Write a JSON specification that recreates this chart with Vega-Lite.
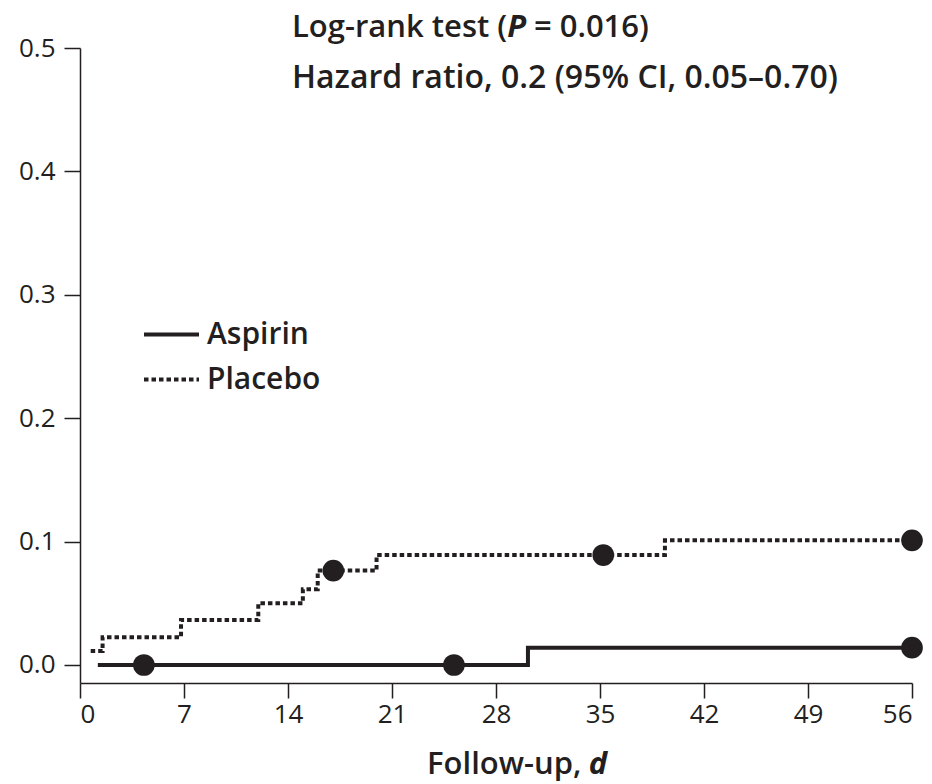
{
  "$schema": "https://vega.github.io/schema/vega-lite/v6.json",
  "width": 832,
  "height": 635,
  "autosize": {"type": "none"},
  "padding": {"left": 80, "top": 48, "right": 20, "bottom": 101},
  "background": "white",
  "datasets": {
    "curves": [
      {"group": "Aspirin", "x": 1.2, "y": 0},
      {"group": "Aspirin", "x": 30.15, "y": 0.014},
      {"group": "Aspirin", "x": 56, "y": 0.014},
      {"group": "Placebo", "x": 0.72, "y": 0.0113},
      {"group": "Placebo", "x": 1.52, "y": 0.0224},
      {"group": "Placebo", "x": 6.8, "y": 0.0365},
      {"group": "Placebo", "x": 12.0, "y": 0.050},
      {"group": "Placebo", "x": 15.0, "y": 0.0613},
      {"group": "Placebo", "x": 16.0, "y": 0.0765},
      {"group": "Placebo", "x": 19.96, "y": 0.0891},
      {"group": "Placebo", "x": 39.37, "y": 0.1010},
      {"group": "Placebo", "x": 56, "y": 0.1010}
    ],
    "censor": [
      {"group": "Aspirin", "x": 4.3, "y": 0},
      {"group": "Aspirin", "x": 25.17, "y": 0},
      {"group": "Aspirin", "x": 56, "y": 0.014},
      {"group": "Placebo", "x": 17.05, "y": 0.0765},
      {"group": "Placebo", "x": 35.22, "y": 0.0891},
      {"group": "Placebo", "x": 56, "y": 0.1010}
    ],
    "annot": [
      {"x": 14.27, "y": 0.5162, "label": "Log-rank test ("},
      {"x": 30.55, "y": 0.5162, "label": "= 0.016)"},
      {"x": 23.36, "y": -0.081, "label": "Follow-up,"}
    ],
    "annotLarge": [
      {"x": 14.27, "y": 0.4757, "label": "Hazard ratio, 0.2 (95% CI, 0.05–0.70)"}
    ],
    "annotItalic": [
      {"x": 28.75, "y": 0.5162, "label": "P"},
      {"x": 34.25, "y": -0.081, "label": "d"}
    ]
  },
  "encoding": {
    "x": {
      "field": "x",
      "type": "quantitative",
      "scale": {"domain": [0, 56], "nice": false, "zero": false},
      "axis": {"values": [0, 7, 14, 21, 28, 35, 42, 49, 56], "title": null, "format": "d"}
    },
    "y": {
      "field": "y",
      "type": "quantitative",
      "scale": {"domain": [-0.0146, 0.5], "nice": false, "zero": false},
      "axis": {"values": [0, 0.1, 0.2, 0.3, 0.4, 0.5], "title": null, "format": ".1f"}
    }
  },
  "layer": [
    {
      "data": {"name": "curves"},
      "mark": {"type": "line", "interpolate": "step-after", "color": "#231f20", "strokeWidth": 4, "strokeCap": "butt"},
      "encoding": {
        "strokeDash": {
          "field": "group",
          "type": "nominal",
          "scale": {"domain": ["Aspirin", "Placebo"], "range": [[1, 0], [4.5, 3]]},
          "legend": {
            "orient": "none",
            "legendX": 62,
            "legendY": 257,
            "title": null,
            "padding": 0,
            "symbolType": "stroke",
            "symbolSize": 3025,
            "symbolStrokeWidth": 4,
            "symbolStrokeColor": "#231f20",
            "rowPadding": -5,
            "labelOffset": 6,
            "labelFont": "Open Sans",
            "labelFontWeight": 600,
            "labelFontSize": 30,
            "labelColor": "#231f20"
          }
        }
      }
    },
    {
      "data": {"name": "censor"},
      "mark": {"type": "circle", "size": 470, "color": "#231f20", "opacity": 1}
    },
    {
      "data": {"name": "annot"},
      "mark": {"type": "text", "align": "left", "baseline": "middle", "font": "Open Sans", "fontWeight": 600, "fontSize": 31, "color": "#231f20"},
      "encoding": {"text": {"field": "label", "type": "nominal"}}
    },
    {
      "data": {"name": "annotLarge"},
      "mark": {"type": "text", "align": "left", "baseline": "middle", "font": "Open Sans", "fontWeight": 600, "fontSize": 32, "color": "#231f20"},
      "encoding": {"text": {"field": "label", "type": "nominal"}}
    },
    {
      "data": {"name": "annotItalic"},
      "mark": {"type": "text", "align": "left", "baseline": "middle", "font": "Open Sans", "fontWeight": "bold", "fontStyle": "italic", "fontSize": 31, "color": "#231f20"},
      "encoding": {"text": {"field": "label", "type": "nominal"}}
    }
  ],
  "config": {
    "view": {"stroke": null},
    "font": "Open Sans",
    "axis": {
      "grid": false,
      "domainColor": "#231f20",
      "domainWidth": 1.5,
      "tickColor": "#231f20",
      "tickWidth": 1.5,
      "labelColor": "#231f20",
      "labelFont": "Open Sans",
      "labelFontSize": 26
    },
    "axisX": {"tickSize": 15, "labelPadding": 3},
    "axisY": {"tickSize": 16, "labelPadding": 9}
  }
}
